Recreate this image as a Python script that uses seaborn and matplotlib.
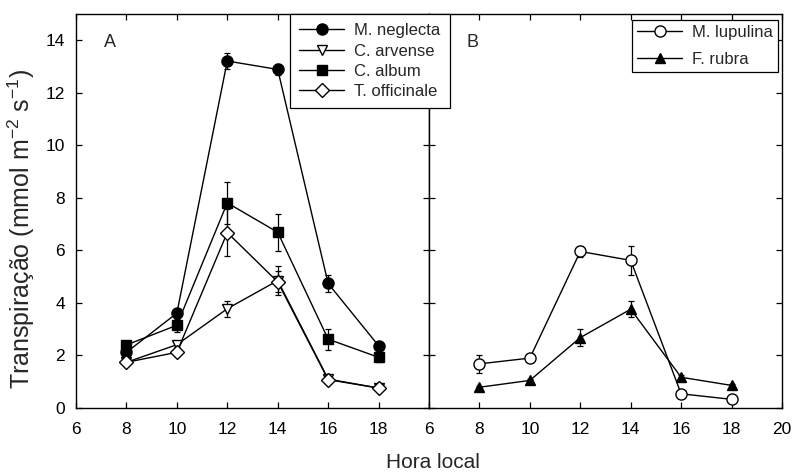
import matplotlib
matplotlib.use("Agg")
import matplotlib.pyplot as plt
import seaborn as sns
import pandas as pd
import numpy as np

hours = [8, 10, 12, 14, 16, 18]

# Panel A
neglecta = [2.12, 3.61, 13.21, 12.89, 4.74, 2.37]
neglecta_err = [0.10, 0.10, 0.30, 0.22, 0.32, 0.10]
arvense = [1.74, 2.41, 3.78, 4.85, 1.10, 0.76]
arvense_err = [0.05, 0.10, 0.30, 0.55, 0.05, 0.05]
album = [2.40, 3.15, 7.81, 6.69, 2.62, 1.93]
album_err = [0.10, 0.25, 0.80, 0.70, 0.40, 0.18]
officinale = [1.74, 2.12, 6.68, 4.80, 1.08, 0.76]
officinale_err = [0.05, 0.05, 0.88, 0.40, 0.05, 0.05]

# Panel B
lupulina = [1.68, 1.90, 5.96, 5.62, 0.54, 0.33]
lupulina_err = [0.35, 0.05, 0.20, 0.55, 0.05, 0.05]
rubra = [0.79, 1.05, 2.68, 3.76, 1.17, 0.86]
rubra_err = [0.05, 0.05, 0.32, 0.30, 0.10, 0.05]

sns.set_theme(style="ticks")
plt.rcParams['font.family'] = ['Liberation Sans', 'DejaVu Sans']
plt.rcParams['mathtext.default'] = 'regular'

fig, (axA, axB) = plt.subplots(1, 2, figsize=(7.95, 4.72), dpi=100, sharey=True)
fig.subplots_adjust(left=76/795, right=782/795, bottom=1-408/472, top=1-14/472, wspace=0)

seriesA = [
    ("M. neglecta", neglecta, neglecta_err, "o", "black", 8),
    ("C. arvense", arvense, arvense_err, "v", "white", 7.5),
    ("C. album", album, album_err, "s", "black", 6.5),
    ("T. officinale", officinale, officinale_err, "D", "white", 7),
]
seriesB = [
    ("M. lupulina", lupulina, lupulina_err, "o", "white", 8),
    ("F. rubra", rubra, rubra_err, "^", "black", 7.5),
]

def draw(ax, series):
    for name, vals, errs, mk, fc, ms in series:
        df = pd.DataFrame({"Hora": hours, "T": vals})
        ax.errorbar(df["Hora"], df["T"], yerr=errs, fmt="none", ecolor="black",
                    elinewidth=0.9, capsize=2.5, capthick=0.9, zorder=2)
        sns.lineplot(data=df, x="Hora", y="T", ax=ax, color="black", linewidth=1.0,
                     marker=mk, markersize=ms, markerfacecolor=fc,
                     markeredgecolor="black", markeredgewidth=1.0, label=name,
                     zorder=3, legend=False)

draw(axA, seriesA)
draw(axB, seriesB)

for ax in (axA, axB):
    ax.set_xlim(6, 20)
    ax.set_ylim(0, 15)
    ax.set_xticks([6, 8, 10, 12, 14, 16, 18, 20])
    ax.set_yticks([0, 2, 4, 6, 8, 10, 12, 14])
    ax.tick_params(direction="in", top=True, right=True, length=4, width=0.9,
                   labelsize=12.5, colors="black")
    ax.tick_params(axis="x", pad=10)
    ax.tick_params(axis="y", pad=8)
    ax.set_xlabel("")
    ax.set_ylabel("")
    for s in ax.spines.values():
        s.set_color("black")
        s.set_linewidth(1.0)

axA.set_xticklabels(["6", "8", "10", "12", "14", "16", "18", ""])
axB.tick_params(labelleft=False)
axA.set_ylabel("Transpiração (mmol m$^{-2}$ s$^{-1}$)", fontsize=18)
axA.yaxis.set_label_coords(-39/353, (408 - 229) / 394)
fig.text(433 / 795, 1 - 462 / 472, "Hora local", ha="center", va="center", fontsize=15)

axA.text(0.08, 0.915, "A", transform=axA.transAxes, fontsize=13)
axB.text(0.105, 0.915, "B", transform=axB.transAxes, fontsize=13)

hA, lA = axA.get_legend_handles_labels()
hB, lB = axB.get_legend_handles_labels()
common = dict(loc="upper left", bbox_transform=fig.transFigure, fontsize=12,
              frameon=True, fancybox=False, edgecolor="black", framealpha=1,
              handlelength=2.7, handletextpad=0.6, borderaxespad=0)
legA = fig.legend(hA, lA, bbox_to_anchor=(290/795, 1-14/472), labelspacing=0.32,
                  borderpad=0.55, **common)
legA.get_frame().set_linewidth(0.9)
legB = fig.legend(hB, lB, bbox_to_anchor=(632/795, 1-20/472), labelspacing=0.7,
                  borderpad=0.3, **common)
legB.get_frame().set_linewidth(0.9)

fig.savefig("out.png", dpi=100)
